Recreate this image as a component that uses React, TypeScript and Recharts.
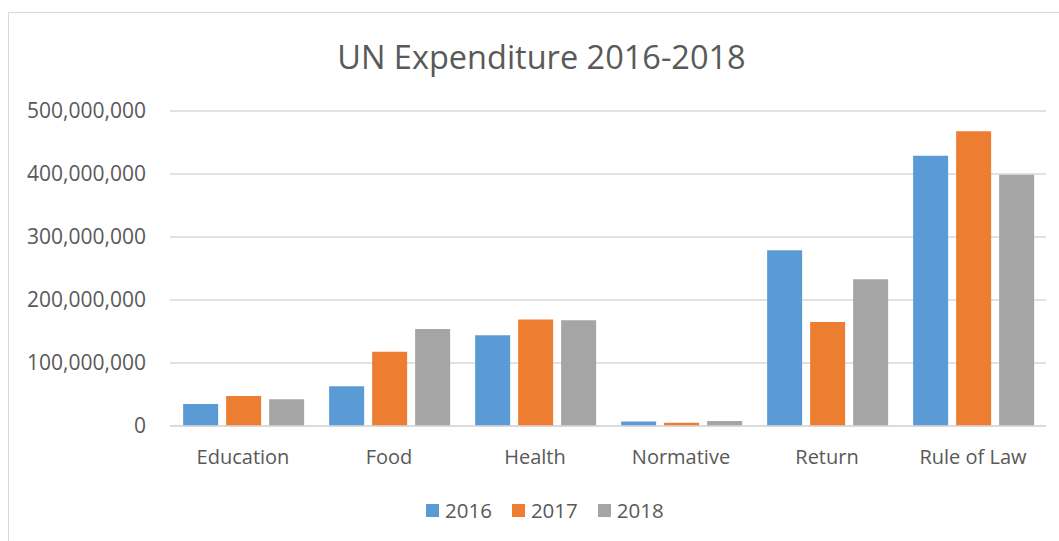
import { BarChart, Bar, XAxis, YAxis, CartesianGrid, Legend } from 'recharts'

const categories = ['Education', 'Food', 'Health', 'Normative', 'Return', 'Rule of Law']
const values2016 = [35000000, 63000000, 144000000, 7000000, 279000000, 429000000]
const values2017 = [47500000, 118000000, 169000000, 5000000, 165000000, 468000000]
const values2018 = [42500000, 154000000, 168000000, 8000000, 233000000, 399000000]
const yTicks = [0, 100000000, 200000000, 300000000, 400000000, 500000000]

const data = categories.map((name, i) => ({
  name,
  y2016: values2016[i],
  y2017: values2017[i],
  y2018: values2018[i]
}))

const FONT = '"Open Sans", sans-serif'
const TEXT = '#595959'

function LegendContent({ payload }: any) {
  return (
    <div style={{ display: 'flex', gap: 20, fontFamily: FONT, fontSize: 20.5, color: TEXT, lineHeight: '24px' }}>
      {(payload || []).map((p: any) => (
        <span key={p.value} style={{ display: 'flex', alignItems: 'center' }}>
          <span style={{ width: 13, height: 13, background: p.color, display: 'inline-block', marginRight: 6 }} />
          {p.value}
        </span>
      ))}
    </div>
  )
}

export default function App() {
  return (
    <div style={{ position: 'absolute', left: 0, top: 0, width: 1059, height: 541, overflow: 'hidden', background: '#fff' }}>
      <div style={{ position: 'absolute', left: 8, top: 12, width: 1100, height: 600, border: '1px solid #d9d9d9' }} />
      <div
        style={{
          position: 'absolute',
          top: 36,
          left: 0,
          width: 1083,
          textAlign: 'center',
          fontFamily: FONT,
          fontSize: 32.5,
          color: TEXT,
          lineHeight: '42px'
        }}
      >
        UN Expenditure 2016-2018
      </div>
      <div style={{ position: 'absolute', left: 0, top: 0 }}>
        <BarChart
          width={1059}
          height={541}
          data={data}
          margin={{ top: 111, right: 13, left: 0, bottom: 85 }}
          barCategoryGap="9%"
          barGap={8}
        >
          <CartesianGrid vertical={false} stroke="#d9d9d9" strokeWidth={1.3} />
          <XAxis
            dataKey="name"
            height={30}
            axisLine={{ stroke: '#d9d9d9', strokeWidth: 1.3 }}
            tickLine={false}
            tickSize={0}
            tickMargin={24}
            tick={{ fill: TEXT, fontSize: 20, fontFamily: FONT }}
          />
          <YAxis
            width={170}
            domain={[0, 500000000]}
            ticks={yTicks}
            axisLine={false}
            tickLine={false}
            tickSize={0}
            tickMargin={24}
            tick={{ fill: TEXT, fontSize: 21, fontFamily: FONT }}
            tickFormatter={(v: number) => v.toLocaleString('en-US')}
          />
          <Bar dataKey="y2016" name="2016" fill="#5b9bd5" isAnimationActive={false} />
          <Bar dataKey="y2017" name="2017" fill="#ed7d31" isAnimationActive={false} />
          <Bar dataKey="y2018" name="2018" fill="#a5a5a5" isAnimationActive={false} />
          <Legend
            layout="horizontal"
            verticalAlign="middle"
            align="center"
            content={<LegendContent />}
            wrapperStyle={{ left: 426, top: 498, width: 300, height: 26 }}
          />
        </BarChart>
      </div>
    </div>
  )
}
